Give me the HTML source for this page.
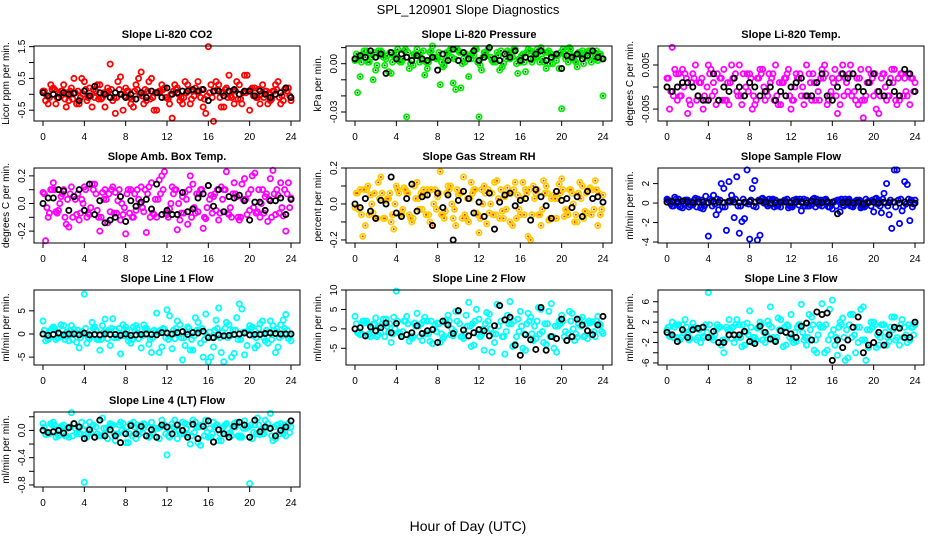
<!DOCTYPE html>
<html><head><meta charset="utf-8"><style>
body{margin:0;background:#fff;}
svg{display:block;font-family:"Liberation Sans",sans-serif;}
</style></head><body>
<svg id="chart" width="936" height="540" viewBox="0 0 936 540">
<rect width="936" height="540" fill="#fff"/>
<text x="468" y="14" text-anchor="middle" font-size="13">SPL_120901  Slope Diagnostics</text>
<text x="468" y="531" text-anchor="middle" font-size="14">Hour of Day (UTC)</text>
</svg>
<script>
const titles=["Slope Li-820 CO2","Slope Li-820 Pressure","Slope Li-820 Temp.","Slope Amb. Box Temp.","Slope Gas Stream RH","Slope Sample Flow","Slope Line 1 Flow","Slope Line 2 Flow","Slope Line 3 Flow","Slope Line 4 (LT) Flow"];
const yLabels=["Licor ppm per min.","kPa per min.","degrees C per min.","degrees C per min.","percent per min.","ml/min per min.","ml/min per min.","ml/min per min.","ml/min per min.","ml/min per min."];
const xTicks=[0,4,8,12,16,20,24];
const yRanges=[[-0.84,1.52],[-0.0356,0.011],[-0.0077,0.0093],[-0.286,0.257],[-0.217,0.2],[-4.1,3.6],[-6.7,9.5],[-9.3,10],[-6.4,8.3],[-0.83,0.27]];
const yTicks=[[-0.5,0,0.5,1,1.5],[-0.03,-0.02,-0.01,0,0.01],[-0.005,0,0.005],[-0.2,-0.1,0,0.1,0.2],[-0.2,-0.1,0,0.1,0.2],[-4,-2,0,2],[-5,0,5],[-5,0,5,10],[-6,-4,-2,0,2,4,6],[-0.8,-0.6,-0.4,-0.2,0,0.2]];
const yTickLabels=[["-0.5","","0.5","","1.5"],["-0.03","","","0.00",""],["-0.005","","0.005"],["-0.2","","0.0","","0.2"],["-0.2","","0.0","","0.2"],["-4","-2","0","2"],["-5","0","5"],["-5","0","5","10"],["-6","","-2","","2","","6"],["-0.8","","-0.4","","0.0",""]];
const colors=["#ff0000","#00ee00","#ff00ff","#ff00ff","#ffcc00","#0000ff","#00ffff","#00ffff","#00ffff","#00ffff"];

const seriesA=[
[0.1,-0.3,0.2,-0.1,0.3,-0.2,0.5,-0.3,0.4,0.2,-0.1,0.3,-0.4,0.95,-0.6,0.55,0.2,-0.3,0.3,0.7,-0.2,0.5,-0.5,0.3,-0.1,-0.75,0.2,-0.3,0.3,0.1,0.4,-0.4,1.5,-0.85,0.3,-0.4,0.6,-0.3,0.3,0.6,-0.5,0.2,-0.3,0.1,-0.2,0.3,-0.3,0.2,-0.2],
[0.002,-0.008,0.004,0.006,-0.004,0.008,0.003,-0.006,0.007,0.001,-0.033,0.005,0.009,0.002,-0.003,0.011,0.004,-0.002,0.006,-0.012,0.008,0.003,-0.008,0.005,-0.033,0.007,0.010,0.002,-0.004,0.006,0.003,0.009,0.001,-0.005,0.008,0.004,0.010,-0.003,0.006,0.002,-0.028,0.009,0.005,-0.002,0.008,0.004,0.007,0.002,-0.020],
[0.002,0.009,-0.003,0.004,-0.006,0.003,-0.002,-0.005,0.005,0.001,-0.003,0.004,-0.004,0.002,0.005,-0.002,0.003,-0.004,0.004,-0.003,0.001,0.005,-0.004,0.002,-0.005,0.003,-0.002,0.005,-0.003,0.001,0.004,-0.004,0.002,-0.006,0.005,-0.001,0.003,-0.004,-0.007,0.004,-0.002,-0.006,0.003,-0.002,0.004,-0.003,0.002,-0.004,0.001],
[0.08,-0.1,0.15,-0.05,0.1,-0.17,0.05,-0.12,0.12,-0.08,0.14,-0.2,0.1,-0.06,0.08,-0.12,-0.22,0.1,-0.05,0.12,-0.21,0.15,-0.1,0.2,-0.08,0.12,-0.19,0.05,-0.15,0.14,-0.06,-0.18,0.13,0.05,-0.12,0.1,-0.08,0.15,-0.12,0.18,-0.05,0.22,-0.1,0.05,0.18,-0.08,0.15,-0.2,0.04],
[-0.02,0.08,-0.12,0.05,-0.08,0.15,0.02,-0.1,0.1,-0.05,0.06,-0.1,0.12,-0.03,0.08,-0.12,0.04,-0.06,0.1,-0.08,0.05,0.15,-0.1,0.08,-0.16,0.1,-0.05,0.12,-0.08,0.04,-0.1,0.12,-0.06,0.08,-0.2,0.06,-0.12,0.1,0.03,-0.08,0.14,-0.04,0.06,-0.1,0.1,-0.05,0.08,-0.12,0.05],
[0.4,-0.3,0.2,-0.5,0.3,-0.2,0.4,-0.6,-3.4,0.8,-0.7,1.5,2.2,-1.5,-3.1,-1.6,-3.7,2.3,-3.3,0.3,-0.2,0.3,-0.4,0.2,-0.3,0.4,-0.8,0.3,-0.2,0.4,-0.3,0.2,-0.6,0.3,-0.2,0.3,-0.4,0.2,-0.3,0.2,-0.9,0.3,1.0,-1.2,3.4,-2.1,2.2,-1.8,0.3],
[2.8,-1.2,1.5,-0.8,1.8,-1.5,1.0,-3.0,8.6,-1.0,1.5,-3.5,3.2,-2.5,1.0,-4.3,1.5,-2.0,1.8,-3.0,1.2,-4.0,4.5,-2.8,5.2,-3.2,2.8,-5.6,1.5,-3.5,2.5,-5.0,-6.0,-2.8,5.6,-6.0,2.0,-4.2,6.5,-4.5,1.8,-3.0,2.2,-1.5,2.8,-4.0,2.0,4.2,-1.5],
[3.2,-1.5,1.5,-2.0,2.8,-1.0,2.5,-3.5,9.7,-1.8,3.2,-2.5,4.0,-3.0,2.0,-3.8,1.5,-2.5,3.5,-1.8,4.5,-2.5,6.8,-4.2,2.5,-5.5,3.8,-3.5,6.0,-6.5,7.0,-4.0,4.5,-5.5,3.0,-2.5,5.0,-4.0,6.5,-6.0,3.5,-3.0,4.0,-2.2,3.0,-2.5,1.8,3.2,-1.2],
[0.5,2.0,-1.0,1.5,-0.5,1.8,-1.0,-0.8,7.8,-1.5,1.0,-4.0,2.5,-2.0,1.5,-2.5,4.2,-1.0,2.0,-2.0,5.0,-1.5,2.5,-2.5,3.5,-1.8,5.5,-2.5,3.0,-4.0,5.6,-3.5,6.3,-4.5,2.8,-5.0,3.5,-2.0,5.0,-3.0,2.0,-2.5,1.5,-1.8,3.0,-2.5,1.0,-1.5,1.5],
[0.1,-0.05,0.12,-0.08,0.08,-0.1,0.1,-0.05,-0.76,0.12,-0.1,0.15,-0.05,0.1,-0.15,0.12,-0.18,0.1,-0.12,0.08,-0.08,0.12,-0.1,0.15,-0.36,0.1,-0.12,0.12,-0.06,0.15,-0.18,0.08,-0.1,0.12,-0.15,0.06,-0.05,0.1,-0.1,0.14,-0.78,0.08,-0.06,0.15,0.25,-0.12,0.1,-0.08,0.05]
];
const seriesB=[
[-0.2,0.3,-0.3,0.1,-0.4,0.2,-0.3,0.5,-0.2,-0.4,0.3,-0.1,0.2,-0.2,0.4,-0.5,0.1,-0.4,0.5,-0.3,0.4,-0.5,0.1,0.2,-0.3,0.3,-0.2,0.4,-0.3,0.2,-0.1,-0.6,0.3,0.4,-0.4,0.2,-0.1,0.4,-0.3,0.6,0.2,-0.1,0.3,-0.3,0.1,0.4,-0.2,0.2],
[-0.018,0.006,0.001,-0.010,0.008,0.004,-0.005,0.005,0.002,0.008,-0.003,0.006,0.001,-0.007,0.007,0.004,-0.013,0.002,0.009,-0.016,-0.015,0.006,0.003,0.009,-0.004,0.005,0.002,0.007,-0.002,0.008,0.004,-0.006,0.006,0.009,0.003,0.007,0.001,0.008,0.005,-0.003,0.006,0.010,0.002,0.007,0.004,0.008,0.003,0.006],
[-0.005,0.004,-0.002,0.003,-0.004,0.005,0.001,-0.003,0.004,-0.004,0.002,-0.003,0.005,-0.001,-0.004,0.003,-0.005,0.002,0.004,-0.002,0.003,-0.004,0.001,0.004,-0.003,0.002,-0.004,0.003,0.001,-0.003,0.005,-0.002,0.004,-0.004,0.002,0.005,-0.003,0.004,-0.002,0.003,-0.005,0.002,-0.003,0.004,-0.004,0.003,-0.002,0.002],
[-0.27,0.1,-0.06,0.05,-0.15,0.12,-0.08,0.03,-0.1,0.14,-0.05,0.08,-0.14,0.12,0.02,-0.08,0.1,-0.1,0.03,-0.06,0.12,-0.08,0.17,0.23,-0.04,0.1,-0.12,0.08,0.2,-0.07,0.1,-0.11,0.06,-0.05,0.12,0.23,-0.1,0.05,0.14,-0.08,0.2,-0.06,0.1,-0.13,0.24,0.06,-0.09,0.15],
[0.06,-0.18,0.1,-0.05,0.12,-0.08,0.03,-0.14,0.06,0.09,-0.06,0.1,-0.03,0.05,-0.1,0.08,0.18,-0.04,0.1,-0.12,0.06,-0.08,0.12,-0.05,0.08,-0.11,0.06,0.13,-0.04,0.09,-0.12,0.05,0.12,-0.18,0.1,-0.06,0.13,-0.09,0.05,0.11,-0.07,0.08,-0.1,0.12,-0.04,0.09,0.13,-0.06],
[0.2,0.6,-0.4,0.3,-0.2,0.5,-0.5,0.7,0.2,-1.2,2.0,-2.8,0.8,2.7,-1.9,3.4,1.5,-3.8,0.5,-0.3,0.4,-0.3,0.2,-0.5,0.3,-0.2,0.4,-0.3,0.5,-0.2,0.3,-0.4,0.2,-0.9,0.4,-0.3,0.2,-0.5,0.4,-0.3,0.5,-1.0,2.0,-2.6,3.4,-0.8,1.9,-0.4],
[-1.5,0.8,-1.2,2.0,-0.5,1.8,-1.8,0.5,-2.0,2.5,-1.2,1.8,-1.0,3.3,-0.8,2.0,-1.5,1.5,-1.0,2.0,-2.2,0.8,-4.0,1.0,3.9,-1.0,2.0,-2.5,-3.5,3.5,-2.0,4.3,-5.0,3.0,-4.0,2.5,-5.0,3.5,5.4,-2.5,1.5,-2.5,2.8,-2.0,1.8,-2.8,3.0,-1.0],
[-1.0,2.0,-1.8,1.2,-1.5,2.5,-0.8,3.0,-1.0,2.0,-3.2,1.5,-2.0,3.0,-3.2,1.0,-3.5,2.2,-1.5,4.5,-2.0,3.5,-4.5,5.0,-1.5,4.2,-6.0,6.3,-2.0,3.5,-4.5,2.5,-5.0,4.0,-3.0,5.5,-3.5,4.5,-5.0,2.0,-2.0,4.5,-3.0,2.5,-1.8,1.5,-2.0,1.0],
[-0.8,1.0,-1.5,2.5,-1.2,0.8,-2.0,1.5,-1.0,0.5,-2.5,1.0,-1.2,2.5,-2.8,1.8,-2.0,0.8,-1.5,2.2,-1.0,2.8,-2.8,1.2,-2.0,1.5,-1.5,3.5,-3.5,1.5,-4.0,4.5,-2.5,2.0,-5.5,3.5,-4.0,4.5,-5.5,2.0,-3.0,1.5,-2.5,3.0,-1.0,2.5,-2.0,1.0],
[-0.06,0.1,-0.1,0.06,-0.08,0.26,-0.05,0.12,-0.1,0.06,-0.05,0.18,-0.12,0.08,-0.05,0.1,-0.18,0.12,-0.06,0.1,-0.1,0.04,-0.12,0.08,-0.1,0.15,-0.05,0.1,-0.2,0.12,-0.22,0.15,-0.1,0.08,-0.15,0.1,-0.08,0.12,-0.1,0.06,-0.12,0.18,-0.05,0.1,-0.15,0.08,-0.05,0.1]
];
const seriesC=[
[0.1,-0.1,0.15,0,-0.15,0.1,0.05,-0.1,0.15,-0.05,0.1,-0.15,0.05,0.15,-0.1,0,0.1,-0.15,0.15,-0.05,0.1,-0.1,0.05,0.15,-0.15,0.1,0,-0.1,0.15,-0.05,0.1,-0.15,0.05,0.1,-0.1,0.15,-0.05,0.1,-0.15,0.05,0.15,-0.1,0,0.1,-0.15,0.15,-0.05,0.1],
[0.006,0.001,0.008,0.004,-0.001,0.007,0.005,0.001,0.009,0.003,0.007,-0.001,0.005,0.008,0.001,0.004,0.007,-0.001,0.008,0.003,0.007,0.001,0.005,0.009,-0.001,0.007,0.004,0.001,0.008,0.003,0.007,0,0.005,0.007,0.001,0.009,0.003,0.007,0,0.005,0.009,0.001,0.004,0.007,0,0.008,0.003,0.006],
[0.002,-0.002,0.003,0,-0.003,0.002,0.001,-0.002,0.003,-0.001,0.002,-0.003,0.001,0.003,-0.002,0,0.002,-0.003,0.003,-0.001,0.002,-0.002,0.001,0.003,-0.003,0.002,0,-0.002,0.003,-0.001,0.002,-0.003,0.001,0.002,-0.002,0.003,-0.001,0.002,-0.003,0.001,0.003,-0.002,0,0.002,-0.003,0.003,-0.001,0.002],
[0.07,-0.07,0.1,0,-0.1,0.07,0.03,-0.07,0.1,-0.03,0.07,-0.1,0.03,0.1,-0.07,0,0.07,-0.1,0.1,-0.03,0.07,-0.07,0.03,0.1,-0.1,0.07,0,-0.07,0.1,-0.03,0.07,-0.1,0.03,0.07,-0.07,0.1,-0.03,0.07,-0.1,0.03,0.1,-0.07,0,0.07,-0.1,0.1,-0.03,0.07],
[0.06,-0.06,0.08,0,-0.08,0.06,0.03,-0.06,0.08,-0.03,0.06,-0.08,0.03,0.08,-0.06,0,0.06,-0.08,0.08,-0.03,0.06,-0.06,0.03,0.08,-0.08,0.06,0,-0.06,0.08,-0.03,0.06,-0.08,0.03,0.06,-0.06,0.08,-0.03,0.06,-0.08,0.03,0.08,-0.06,0,0.06,-0.08,0.08,-0.03,0.06],
[0.3,-0.3,0.4,0,-0.4,0.3,0.1,-0.3,0.4,-0.1,0.3,-0.4,0.1,0.4,-0.3,0,0.3,-0.4,0.4,-0.1,0.3,-0.3,0.1,0.4,-0.4,0.3,0,-0.3,0.4,-0.1,0.3,-0.4,0.1,0.3,-0.3,0.4,-0.1,0.3,-0.4,0.1,0.4,-0.3,0,0.3,-0.4,0.4,-0.1,0.3],
[0.8,-0.8,1.2,0,-1.2,0.8,0.4,-0.8,1.2,-0.4,0.8,-1.2,0.4,1.2,-0.8,0,0.8,-1.2,1.2,-0.4,0.8,-0.8,0.4,1.2,-1.2,0.8,0,-0.8,1.2,-0.4,0.8,-1.2,0.4,0.8,-0.8,1.2,-0.4,0.8,-1.2,0.4,1.2,-0.8,0,0.8,-1.2,1.2,-0.4,0.8],
[1.3,-1.3,2,0,-2,1.3,0.7,-1.3,2,-0.7,1.3,-2,0.7,2,-1.3,0,1.3,-2,2,-0.7,1.3,-1.3,0.7,2,-2,1.3,0,-1.3,2,-0.7,1.3,-2,0.7,1.3,-1.3,2,-0.7,1.3,-2,0.7,2,-1.3,0,1.3,-2,2,-0.7,1.3],
[1,-1,1.5,0,-1.5,1,0.5,-1,1.5,-0.5,1,-1.5,0.5,1.5,-1,0,1,-1.5,1.5,-0.5,1,-1,0.5,1.5,-1.5,1,0,-1,1.5,-0.5,1,-1.5,0.5,1,-1,1.5,-0.5,1,-1.5,0.5,1.5,-1,0,1,-1.5,1.5,-0.5,1],
[0.05,-0.05,0.08,0,-0.08,0.05,0.03,-0.05,0.08,-0.03,0.05,-0.08,0.03,0.08,-0.05,0,0.05,-0.08,0.08,-0.03,0.05,-0.05,0.03,0.08,-0.08,0.05,0,-0.05,0.08,-0.03,0.05,-0.08,0.03,0.05,-0.05,0.08,-0.03,0.05,-0.08,0.03,0.08,-0.05,0,0.05,-0.08,0.08,-0.03,0.05]
];
const seriesD=[
[-0.05,0.15,-0.1,0.1,0.05,-0.15,0.1,0,-0.1,0.15,-0.15,0.05,0.1,-0.1,0.15,-0.05,-0.1,0.1,0,0.15,-0.15,0.05,0.1,-0.1,0,0.15,-0.1,0.05,-0.15,0.1,0.15,-0.05,-0.1,0.15,0.05,-0.1,0.1,-0.15,0.05,0.1,-0.05,0.15,-0.1,0.05,0.1,-0.1,0.15,-0.05],
[0.003,0.008,0.001,0.007,0.005,-0.001,0.007,0.004,0.001,0.009,0,0.005,0.007,0.001,0.008,0.003,0.001,0.007,0.004,0.009,0,0.005,0.007,0.001,0.004,0.009,0.001,0.005,0,0.007,0.009,0.003,0.001,0.008,0.005,0.001,0.007,0,0.005,0.007,0.003,0.009,0.001,0.005,0.007,0.001,0.008,0.003],
[-0.001,0.003,-0.002,0.002,0.001,-0.003,0.002,0,-0.002,0.003,-0.003,0.001,0.002,-0.002,0.003,-0.001,-0.002,0.002,0,0.003,-0.003,0.001,0.002,-0.002,0,0.003,-0.002,0.001,-0.003,0.002,0.003,-0.001,-0.002,0.003,0.001,-0.002,0.002,-0.003,0.001,0.002,-0.001,0.003,-0.002,0.001,0.002,-0.002,0.003,-0.001],
[-0.03,0.1,-0.07,0.07,0.03,-0.1,0.07,0,-0.07,0.1,-0.1,0.03,0.07,-0.07,0.1,-0.03,-0.07,0.07,0,0.1,-0.1,0.03,0.07,-0.07,0,0.1,-0.07,0.03,-0.1,0.07,0.1,-0.03,-0.07,0.1,0.03,-0.07,0.07,-0.1,0.03,0.07,-0.03,0.1,-0.07,0.03,0.07,-0.07,0.1,-0.03],
[-0.03,0.08,-0.06,0.06,0.03,-0.08,0.06,0,-0.06,0.08,-0.08,0.03,0.06,-0.06,0.08,-0.03,-0.06,0.06,0,0.08,-0.08,0.03,0.06,-0.06,0,0.08,-0.06,0.03,-0.08,0.06,0.08,-0.03,-0.06,0.08,0.03,-0.06,0.06,-0.08,0.03,0.06,-0.03,0.08,-0.06,0.03,0.06,-0.06,0.08,-0.03],
[-0.1,0.4,-0.3,0.3,0.1,-0.4,0.3,0,-0.3,0.4,-0.4,0.1,0.3,-0.3,0.4,-0.1,-0.3,0.3,0,0.4,-0.4,0.1,0.3,-0.3,0,0.4,-0.3,0.1,-0.4,0.3,0.4,-0.1,-0.3,0.4,0.1,-0.3,0.3,-0.4,0.1,0.3,-0.1,0.4,-0.3,0.1,0.3,-0.3,0.4,-0.1],
[-0.4,1.2,-0.8,0.8,0.4,-1.2,0.8,0,-0.8,1.2,-1.2,0.4,0.8,-0.8,1.2,-0.4,-0.8,0.8,0,1.2,-1.2,0.4,0.8,-0.8,0,1.2,-0.8,0.4,-1.2,0.8,1.2,-0.4,-0.8,1.2,0.4,-0.8,0.8,-1.2,0.4,0.8,-0.4,1.2,-0.8,0.4,0.8,-0.8,1.2,-0.4],
[-0.7,2,-1.3,1.3,0.7,-2,1.3,0,-1.3,2,-2,0.7,1.3,-1.3,2,-0.7,-1.3,1.3,0,2,-2,0.7,1.3,-1.3,0,2,-1.3,0.7,-2,1.3,2,-0.7,-1.3,2,0.7,-1.3,1.3,-2,0.7,1.3,-0.7,2,-1.3,0.7,1.3,-1.3,2,-0.7],
[-0.5,1.5,-1,1,0.5,-1.5,1,0,-1,1.5,-1.5,0.5,1,-1,1.5,-0.5,-1,1,0,1.5,-1.5,0.5,1,-1,0,1.5,-1,0.5,-1.5,1,1.5,-0.5,-1,1.5,0.5,-1,1,-1.5,0.5,1,-0.5,1.5,-1,0.5,1,-1,1.5,-0.5],
[-0.03,0.08,-0.05,0.05,0.03,-0.08,0.05,0,-0.05,0.08,-0.08,0.03,0.05,-0.05,0.08,-0.03,-0.05,0.05,0,0.08,-0.08,0.03,0.05,-0.05,0,0.08,-0.05,0.03,-0.08,0.05,0.08,-0.03,-0.05,0.08,0.03,-0.05,0.05,-0.08,0.03,0.05,-0.03,0.08,-0.05,0.03,0.05,-0.05,0.08,-0.03]
];
const seriesBlack=[
[0.05,-0.05,0,-0.1,0.05,0,0.03,-0.2,0.1,-0.05,0.25,0.05,0,-0.1,0.05,0,-0.1,0,-0.15,0.05,-0.1,0.1,0.05,-0.1,0.2,0,0.05,0.1,0.1,0.15,0.1,0.15,-0.2,0.1,0.1,-0.05,0.1,0.15,0,0.1,0.1,-0.05,0.1,0,-0.1,0,0.05,0.2,-0.1],
[0.003,0.005,0.004,0.008,0.004,0.006,-0.006,0.007,0.003,0.006,0.004,0.002,0.005,0.003,0.002,0.004,-0.004,0.006,0.002,0.009,0.002,0.007,0.003,0.008,0.002,0.004,0.010,0.003,0.002,0.006,0.004,0.008,0.002,0.004,0.003,0.006,0.008,0.002,0.004,0.006,-0.003,0.005,0.004,0.006,0.003,0.005,0.008,0.004,0.003],
[0,-0.001,0,0.001,0.001,0,-0.002,-0.003,-0.003,0.003,-0.003,0,-0.001,0.002,0,-0.002,0.001,0,-0.002,-0.001,0,-0.003,-0.001,-0.002,0,0.001,0.002,-0.002,-0.002,0.001,0.003,-0.002,-0.003,0,0.003,0.002,0.003,0,-0.001,0.001,0.003,-0.001,-0.002,0.001,-0.001,-0.002,0.004,0.003,-0.001],
[0,0.04,0.04,0.1,0.09,-0.05,0.05,0.1,-0.05,0.14,-0.08,0.02,-0.14,-0.12,-0.1,0.05,-0.13,0.02,-0.02,0.01,0.03,-0.04,0.14,-0.08,-0.05,-0.08,-0.08,0.08,-0.06,-0.04,0.04,0.07,0.13,-0.02,0.1,-0.06,0.05,0.04,0.06,0.02,-0.12,0.01,0.01,-0.05,0.02,0.02,0.04,-0.08,0.03],
[0,-0.02,0.03,-0.04,-0.08,0.02,0,0.15,-0.05,-0.07,0.03,0.11,-0.04,0.04,0.05,-0.12,0.06,-0.02,0.05,-0.2,0.02,0.07,0.03,-0.05,0.01,-0.07,0.06,-0.14,0.01,0.05,0.06,-0.01,0.02,0.03,-0.09,0.08,0.04,-0.01,-0.08,0.07,0.02,0.03,-0.02,0.04,-0.07,0.07,0.03,0.04,0.01],
[0.1,0.15,0.1,0.2,0.1,0.05,0.1,0.1,0.05,0.15,0.1,0.05,0.2,0.1,0.05,0.1,0.15,0.1,0.2,0.1,0,0.05,0.1,0.1,0.05,0.1,0.1,0.05,0.2,0.1,0.05,0.1,0.1,-1.1,0.05,0.1,0,0.1,-0.1,0.05,0.1,0,0.1,0.05,0.1,0,0.1,0.05,0],
[0,-0.3,-0.1,0.2,-0.2,0,0,-0.2,0.2,-0.2,-0.1,-0.2,0,-0.1,-0.1,-0.3,0,-0.3,-0.2,-0.1,0,-0.1,-0.2,0.3,0.2,0,0.3,0.5,-0.1,0.3,0.2,0.6,-0.8,-0.8,-0.2,-0.4,-0.3,-0.1,0,0.2,-0.2,-0.1,-0.1,0.1,0.2,0.1,0,0,0],
[0,0.3,-1.8,0.5,-0.5,0.3,1.5,-1.0,1.4,-2.0,-1.5,-1.0,0.8,-1.2,-0.5,-0.2,-3.5,2.0,1.0,-1.2,4.7,-0.3,-1.8,-1.0,-0.2,-0.5,-1.8,0.8,6.0,2.3,3.0,-4.2,-6.8,-1.5,-2.8,-5.3,5.5,-5.5,-2.0,-2.5,2.5,-3.0,-2.0,2.5,1.0,-0.5,-1.5,1.0,3.2],
[0,-0.5,-1.8,0.5,-1.0,0.5,0.8,1.0,-1.0,0.2,-2.0,-2.0,-0.5,-0.5,-0.5,0.2,-1.8,-2.2,1.2,0,-1.3,-1.8,0.3,0,-0.3,-1.0,1.2,1.8,-1.5,4.0,3.5,3.8,-5.5,-1.5,-3.0,-1.5,1.0,3.0,-4.0,-2.5,-2.0,0,-2.5,-0.5,1.0,0.8,-1.0,-1.0,2.0],
[0,-0.03,-0.02,0,-0.04,0.04,0.1,0.05,-0.12,0.01,-0.1,0.15,-0.08,0.01,-0.08,-0.18,-0.05,0.07,-0.05,0.06,-0.08,0.01,-0.1,0.08,0.05,-0.05,0.08,0,-0.1,0.09,-0.12,0.06,0.14,-0.17,0.01,-0.05,-0.1,0.06,0.12,0.08,-0.1,0.15,-0.02,0.05,0.03,-0.08,0,0.05,0.14]
];

const NS="http://www.w3.org/2000/svg";
const svg=document.getElementById('chart');
const colL=[34,346,658], rowT=[46,168,290,412], W=266, H=75;
function mk(tag,attrs,parent){const e=document.createElementNS(NS,tag);for(const k in attrs)e.setAttribute(k,attrs[k]);parent.appendChild(e);return e;}

titles.forEach((title,p)=>{
  const L=colL[p%3], T=rowT[Math.floor(p/3)];
  const g=mk('g',{},svg);
  
  
  const [y0,y1]=yRanges[p];
  const xs=h=>L+9+h*(W-18)/24;
  const ys=v=>T+H-(v-y0)/(y1-y0)*H;
  const t=mk('text',{x:L+W/2,y:T-8,'text-anchor':'middle','font-size':11,'font-weight':'bold'},g);
  t.textContent=title;
  
  
  const yl=mk('text',{transform:`translate(${L-25},${T+H/2}) rotate(-90)`,'text-anchor':'middle','font-size':10},g);
  yl.textContent=yLabels[p];
  
  
  const xa=mk('g',{},g);
  
  
  mk('line',{x1:xs(0),x2:xs(24),y1:T+H,y2:T+H,stroke:'#000'},xa);
  xTicks.forEach(v=>{
    mk('line',{x1:xs(v),x2:xs(v),y1:T+H,y2:T+H+5,stroke:'#000'},xa);
    const tl=mk('text',{x:xs(v),y:T+H+19,'text-anchor':'middle','font-size':10},xa);
    tl.textContent=v;
    
    
  });
  const ya=mk('g',{},g);
  
  
  const yt=yTicks[p];
  mk('line',{x1:L,x2:L,y1:ys(yt[0]),y2:ys(yt[yt.length-1]),stroke:'#000'},ya);
  yt.forEach((v,i)=>{
    mk('line',{x1:L-5,x2:L,y1:ys(v),y2:ys(v),stroke:'#000'},ya);
    const lab=yTickLabels[p][i];
    if(lab){
      const tl=mk('text',{transform:`translate(${L-9},${ys(v)}) rotate(-90)`,'text-anchor':'middle','font-size':10},ya);
      tl.textContent=lab;
      
      
    }
  });
  const pts=mk('g',{fill:'none','stroke-width':1.8},g);
  
  
  const col=colors[p];
  const drawPt=(h,v,c,name)=>{
    const c1=mk('circle',{cx:xs(h),cy:ys(v),r:2.6,stroke:c},pts);
    
    
    if(p===1||p===4){mk('circle',{cx:xs(h),cy:ys(v),r:1,fill:p===1?'#0a5a0a':'#ff3000',stroke:'none'},pts);}
  };
  seriesA[p].forEach((v,i)=>drawPt(i*0.5,v,col,'point'));
  seriesB[p].forEach((v,i)=>drawPt(i*0.5+0.25,v,col,'point'));
  seriesC[p].forEach((v,i)=>drawPt(i*0.5+0.125,v,col,'point'));
  seriesD[p].forEach((v,i)=>drawPt(i*0.5+0.375,v,col,'point'));
  seriesBlack[p].forEach((v,i)=>{
    const c1=mk('circle',{cx:xs(i*0.5),cy:ys(v),r:2.6,stroke:'#000'},pts);
    
    
  });
  const box=mk('rect',{x:L,y:T,width:W,height:H,fill:'none',stroke:'#000','stroke-width':1},g);
  
  
});
</script>
</body></html>
